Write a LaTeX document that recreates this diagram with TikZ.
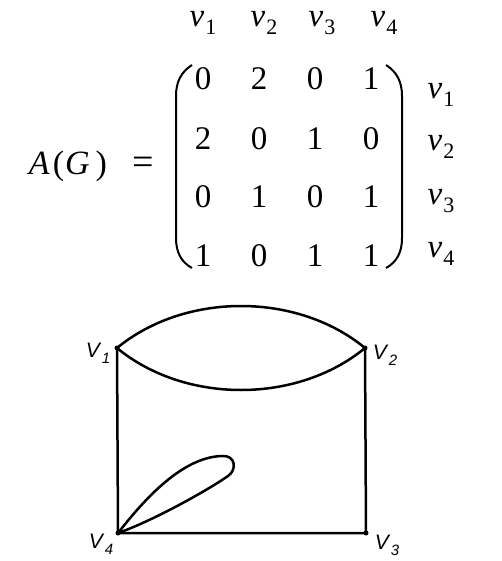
\documentclass[tikz,border=0pt]{standalone}
\usepackage{fontspec}
\setmainfont{Liberation Serif}
\newfontfamily\lsans{Liberation Sans}
\newcommand{\mvl}[1]{\textit{v}\kern1pt\raisebox{-0.24em}{\fontsize{22}{22}\selectfont #1}}
\newcommand{\gvl}[1]{\textit{V}\kern0.5pt\raisebox{-0.3em}{\fontsize{15}{15}\selectfont\textit{#1}}}
\begin{document}
\begin{tikzpicture}[x=1pt,y=-1pt,
  entry/.style={inner sep=0pt,font=\fontsize{33}{33}\selectfont},
  vlab/.style={inner sep=0pt,font=\fontsize{33}{33}\selectfont},
  glab/.style={inner sep=0pt,font=\lsans\fontsize{21}{21}\selectfont},
  vert/.style={circle,fill=black,inner sep=0pt,minimum size=5pt},
  edge/.style={line width=2.5pt,line join=round},
  paren/.style={line width=2pt}]
\useasboundingbox (0,0) rectangle (501,561);
% column labels
\node[vlab] (c1) at (203,23) {\mvl{1}};
\node[vlab] (c2) at (264,23) {\mvl{2}};
\node[vlab] (c3) at (322,23) {\mvl{3}};
\node[vlab] (c4) at (384,23) {\mvl{4}};
% row labels
\node[vlab] (r1) at (441,95) {\mvl{1}};
\node[vlab] (r2) at (441,147) {\mvl{2}};
\node[vlab] (r3) at (441,201) {\mvl{3}};
\node[vlab] (r4) at (441,254) {\mvl{4}};
% A(G) =
\node[entry,font=\fontsize{34}{34}\selectfont] (ag) at (68,166) {\textit{A}\kern3pt(\kern1pt\textit{G}\kern6pt)};
\node[entry,font=\fontsize{38}{38}\selectfont] (eq) at (143,166) {=};
% entries
\node[entry] (e11) at (203,79) {0};
\node[entry] (e12) at (259,79) {2};
\node[entry] (e13) at (315,79) {0};
\node[entry] (e14) at (371,79) {1};
\node[entry] (e21) at (203,139) {2};
\node[entry] (e22) at (259,139) {0};
\node[entry] (e23) at (315,139) {1};
\node[entry] (e24) at (371,139) {0};
\node[entry] (e31) at (203,197) {0};
\node[entry] (e32) at (259,197) {1};
\node[entry] (e33) at (315,197) {0};
\node[entry] (e34) at (371,197) {1};
\node[entry] (e41) at (203,256) {1};
\node[entry] (e42) at (259,256) {0};
\node[entry] (e43) at (315,256) {1};
\node[entry] (e44) at (371,256) {1};
% parentheses
\draw[paren] (192,65) .. controls (181,72) and (176,82) .. (176,96) -- (176,238) .. controls (176,252) and (181,262) .. (192,268);
\draw[paren] (386,65) .. controls (397,72) and (402,82) .. (402,96) -- (402,238) .. controls (402,252) and (397,262) .. (386,268);
% graph
\node[vert] (v1) at (117,348) {};
\node[vert] (v2) at (365,348) {};
\node[vert] (v3) at (366,533) {};
\node[vert] (v4) at (118,533) {};
\node[glab] (l1) at (98,353) {\gvl{1}};
\node[glab] (l2) at (385,355) {\gvl{2}};
\node[glab] (l3) at (387,545) {\gvl{3}};
\node[glab] (l4) at (101,544) {\gvl{4}};
\draw[edge] (v1.center) -- (v4.center) -- (v3.center) -- (v2.center);
\draw[edge] (v1.center) .. controls (185,292) and (297,292) .. (v2.center);
\draw[edge] (v1.center) .. controls (185,404) and (297,404) .. (v2.center);
\draw[edge] (v4.center) .. controls (140,505) and (180,457) .. (222,456)
  .. controls (236,455) and (237,470) .. (228,476)
  .. controls (205,492) and (150,522) .. (v4.center);
\end{tikzpicture}
\end{document}
